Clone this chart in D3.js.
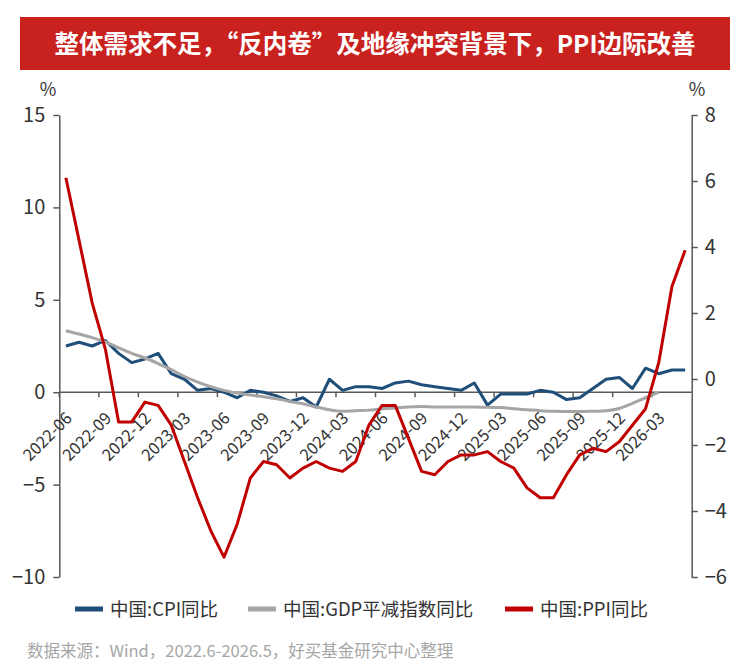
<!DOCTYPE html>
<html><head><meta charset="utf-8">
<script src="https://cdn.jsdelivr.net/npm/d3@7"></script>
<style>
body{margin:0;background:#fff}
svg{display:block}
text{font-family:"Noto Sans CJK SC","Noto Sans",sans-serif}
</style>
</head><body>
<svg id="c" width="750" height="672"></svg>
<script>
const months=["2022-06","2022-07","2022-08","2022-09","2022-10","2022-11","2022-12",
"2023-01","2023-02","2023-03","2023-04","2023-05","2023-06","2023-07","2023-08","2023-09","2023-10","2023-11","2023-12",
"2024-01","2024-02","2024-03","2024-04","2024-05","2024-06","2024-07","2024-08","2024-09","2024-10","2024-11","2024-12",
"2025-01","2025-02","2025-03","2025-04","2025-05","2025-06","2025-07","2025-08","2025-09","2025-10","2025-11","2025-12",
"2026-01","2026-02","2026-03","2026-04","2026-05"];
const tickLabels=["2022-06","2022-09","2022-12","2023-03","2023-06","2023-09","2023-12","2024-03","2024-06","2024-09","2024-12","2025-03","2025-06","2025-09","2025-12","2026-03"];
const leftTicks=[-10,-5,0,5,10,15];
const rightTicks=[-6,-4,-2,0,2,4,6,8];
// 中国:CPI同比 (left axis)
const cpi=[2.5,2.7,2.5,2.8,2.1,1.6,1.8,
2.1,1.0,0.7,0.1,0.2,0.0,-0.3,0.1,0.0,-0.2,-0.5,-0.3,
-0.8,0.7,0.1,0.3,0.3,0.2,0.5,0.6,0.4,0.3,0.2,0.1,
0.5,-0.7,-0.1,-0.1,-0.1,0.1,0.0,-0.4,-0.3,0.2,0.7,0.8,
0.2,1.3,1.0,1.2,1.2];
// 中国:GDP平减指数同比 (left axis, through 2026-03)
const gdpDeflator=[3.33,3.15,2.95,2.72,2.4,2.1,1.85,
1.55,1.22,0.85,0.55,0.3,0.1,-0.05,-0.15,-0.25,-0.35,-0.5,-0.62,
-0.8,-0.95,-1.03,-1.0,-0.97,-0.9,-0.85,-0.8,-0.78,-0.8,-0.8,-0.8,
-0.8,-0.82,-0.83,-0.9,-0.95,-1.0,-1.03,-1.05,-1.05,-1.03,-1.0,-0.88,
-0.6,-0.3,0.0];
// 中国:PPI同比 (right axis)
const ppi=[6.1,4.2,2.3,0.9,-1.3,-1.3,-0.7,
-0.8,-1.4,-2.5,-3.6,-4.6,-5.4,-4.4,-3.0,-2.5,-2.6,-3.0,-2.7,
-2.5,-2.7,-2.8,-2.5,-1.4,-0.8,-0.8,-1.8,-2.8,-2.9,-2.5,-2.3,
-2.3,-2.2,-2.5,-2.7,-3.3,-3.6,-3.6,-2.9,-2.3,-2.1,-2.2,-1.9,
-1.4,-0.9,0.5,2.8,3.9];
const seriesNames=["中国:CPI同比","中国:GDP平减指数同比","中国:PPI同比"];
const colors=["#1F4E79","#A5A5A5","#C00000"];

const svg=d3.select("#c");
const L=59.3,R=691.7,T=115,B=577;
const x=d3.scaleBand().domain(months).range([L,R]).padding(0);
const yL=d3.scaleLinear().domain([-10,15]).range([B,T]);
const yR=d3.scaleLinear().domain([-6,8]).range([B,T]);
const cx=m=>x(m)+x.bandwidth()/2;

// title
svg.append("rect").attr("x",20).attr("y",17).attr("width",710).attr("height",53).attr("fill","#C9211E");
svg.append("text").attr("x",375).attr("y",53).attr("text-anchor","middle").attr("fill","#fff")
  .attr("font-size",24.5).attr("font-weight","bold").text("整体需求不足，“反内卷”及地缘冲突背景下，PPI边际改善");

// unit labels
svg.append("text").attr("x",48).attr("y",96).attr("text-anchor","middle").attr("font-size",18).attr("fill","#333").text("%");
svg.append("text").attr("x",697).attr("y",96).attr("text-anchor","middle").attr("font-size",18).attr("fill","#333").text("%");

const axisColor="#595959";
// left axis
const gl=svg.append("g").attr("transform",`translate(${L},0)`)
  .call(d3.axisLeft(yL).tickValues(leftTicks).tickSize(6).tickSizeOuter(0).tickPadding(8).tickFormat(d3.format("d")));
// right axis
const gr=svg.append("g").attr("transform",`translate(${R},0)`)
  .call(d3.axisRight(yR).tickValues(rightTicks).tickSize(6).tickSizeOuter(0).tickPadding(7).tickFormat(d3.format("d")));
[gl,gr].forEach(g=>{
  g.select(".domain").attr("stroke",axisColor).attr("stroke-width",1.5);
  g.selectAll(".tick line").attr("stroke",axisColor).attr("stroke-width",1.5);
  g.selectAll(".tick text").attr("font-size",20).attr("fill","#333").attr("font-family",'"Noto Sans CJK SC",sans-serif');
});

// x axis at left zero
const y0=yL(0);
const gx=svg.append("g");
gx.append("line").attr("x1",L).attr("x2",R).attr("y1",y0).attr("y2",y0).attr("stroke",axisColor).attr("stroke-width",1.5);
gx.selectAll("line.t").data(tickLabels).enter().append("line").attr("class","t")
  .attr("x1",d=>x(d)).attr("x2",d=>x(d)).attr("y1",y0).attr("y2",y0+5).attr("stroke",axisColor).attr("stroke-width",1.5);
gx.selectAll("text").data(tickLabels).enter().append("text")
  .attr("transform",d=>`translate(${cx(d)+7},${y0+27}) rotate(-45)`)
  .attr("text-anchor","end").attr("font-size",16.5).attr("fill","#333").text(d=>d);

// lines
const lineL=d3.line().x((d,i)=>cx(months[i])).y(d=>yL(d));
const lineG=d3.line().x((d,i)=>cx(months[i])).y(d=>yL(d)).curve(d3.curveMonotoneX);
const lineR=d3.line().x((d,i)=>cx(months[i])).y(d=>yR(d));
svg.append("path").datum(cpi).attr("d",lineL).attr("fill","none").attr("stroke",colors[0]).attr("stroke-width",3).attr("stroke-linejoin","round");
svg.append("path").datum(gdpDeflator).attr("d",lineG).attr("fill","none").attr("stroke",colors[1]).attr("stroke-width",3).attr("stroke-linejoin","round");
svg.append("path").datum(ppi).attr("d",lineR).attr("fill","none").attr("stroke",colors[2]).attr("stroke-width",3).attr("stroke-linejoin","round");

// legend
const legX=[75,248,505];
const lg=svg.append("g");
seriesNames.forEach((n,i)=>{
  lg.append("line").attr("x1",legX[i]).attr("x2",legX[i]+28).attr("y1",609).attr("y2",609).attr("stroke",colors[i]).attr("stroke-width",5);
  lg.append("text").attr("x",legX[i]+35).attr("y",616).attr("font-size",18.5).attr("fill","#333").text(n);
});

// footer
svg.append("text").attr("x",27).attr("y",657).attr("font-size",16.5).attr("fill","#A6A6A6")
  .text("数据来源：Wind，2022.6-2026.5，好买基金研究中心整理");
</script>
</body></html>
